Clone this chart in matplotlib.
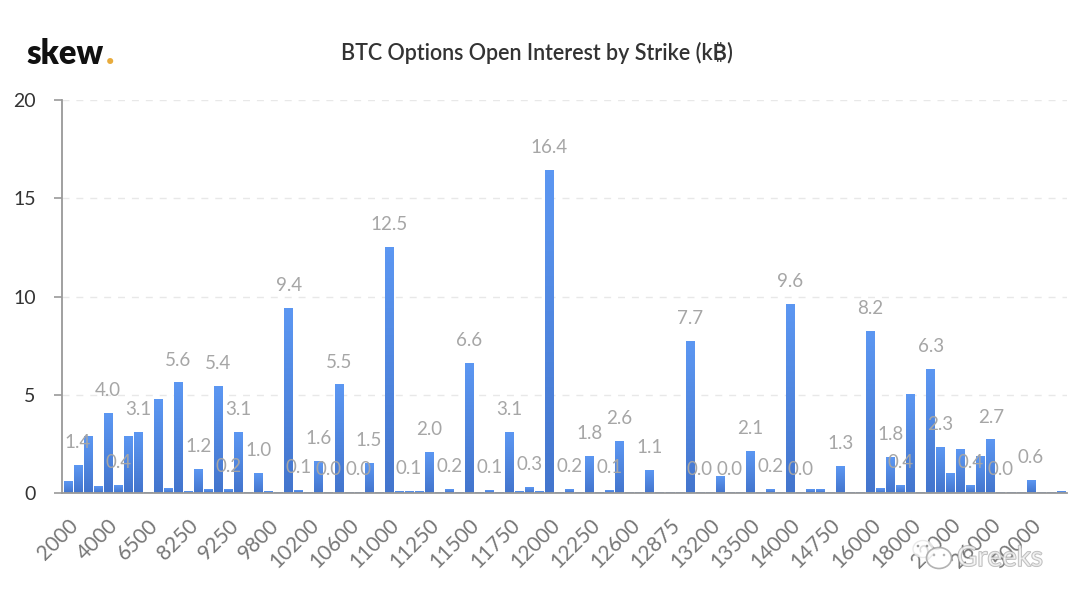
import numpy as np
import matplotlib
matplotlib.use("Agg")
import matplotlib.pyplot as plt
import matplotlib.patheffects as pe
from matplotlib.patches import Ellipse, Circle
from matplotlib.transforms import ScaledTranslation

plt.rcParams['font.family'] = ['Lato', 'DejaVu Sans']

# open interest for every strike
values = [0.6, 1.4, 2.85, 0.35, 4.04, 0.4, 2.9, 3.1, 0.05, 4.75,
          0.25, 5.6, 0.1, 1.2, 0.2, 5.4, 0.2, 3.1, 0.03, 1.0,
          0.07, 0.01, 9.4, 0.14, 0.03, 1.6, 0.02, 5.5, 0.01, 0.02,
          1.5, 0.05, 12.5, 0.07, 0.08, 0.07, 2.04, 0.02, 0.2, 0.02,
          6.6, 0.02, 0.14, 0.02, 3.1, 0.07, 0.3, 0.07, 16.4, 0.02,
          0.2, 0.03, 1.84, 0.02, 0.14, 2.6, 0.03, 0.01, 1.14, 0.03,
          0.03, 0.01, 7.7, 0.03, 0.03, 0.85, 0.03, 0.02, 2.1, 0.05,
          0.2, 0.03, 9.6, 0.02, 0.17, 0.17, 0.01, 1.34, 0.02, 0.05,
          8.2, 0.25, 1.8, 0.38, 5.0, 0.03, 6.3, 2.34, 1.0, 2.2,
          0.4, 1.85, 2.7, 0.04, 0.01, 0.02, 0.64, 0.02, 0.02, 0.07]

# only these bars carry a label
labelled = [1, 4, 5, 7, 11, 13, 15, 16, 17, 19, 22, 23, 25, 26, 27, 29, 30,
            32, 34, 36, 38, 40, 42, 44, 46, 48, 50, 52, 54, 55, 58, 62, 63,
            66, 68, 70, 72, 73, 77, 80, 82, 83, 86, 87, 90, 92, 93, 96]

strike_labels = ['2000', '4000', '6500', '8250', '9250', '9800', '10200',
                 '10600', '11000', '11250', '11500', '11750', '12000',
                 '12250', '12600', '12875', '13200', '13500', '14000',
                 '14750', '16000', '18000', '22000', '26000', '50000']
y_ticks = [0, 5, 10, 15, 20]

fig = plt.figure(figsize=(10.8, 6.03), dpi=100)
ax = fig.add_axes([62 / 1080, 1 - 493 / 603, (1067 - 62) / 1080, (493 - 100) / 603])

x = np.arange(len(values))
bars = ax.bar(x, values, width=0.86, color='#4f86e0', edgecolor='none', zorder=2)

# vertical gradient on each bar
grad = np.linspace(0, 1, 64).reshape(-1, 1)
cmap = matplotlib.colors.LinearSegmentedColormap.from_list('b', ['#5c97f2', '#4375cd'])
for b in bars:
    ax.imshow(grad, cmap=cmap, aspect='auto', zorder=3,
              extent=[b.get_x(), b.get_x() + b.get_width(), 0, b.get_height()])

ax.set_xlim(-0.6, 99.6)
ax.set_ylim(0, 20)

for i in labelled:
    ax.annotate('%.1f' % values[i], (i, values[i]), xytext=(0, 16.5),
                textcoords='offset points', ha='center', va='center',
                fontsize=13.5, color='#a6a6a6', zorder=5, clip_on=False)

ax.set_yticks(y_ticks)
ax.set_xticks(x[::4])
ax.set_xticklabels(strike_labels, rotation=45, ha='right', rotation_mode='anchor',
                   fontsize=15, color='#777777')
shift = ScaledTranslation(-3 / 100, 0, fig.dpi_scale_trans)
for lab in ax.get_xticklabels():
    lab.set_transform(lab.get_transform() + shift)
ax.tick_params(axis='x', length=0, pad=16)
ax.tick_params(axis='y', length=6, width=1.2, color='#999999', labelsize=14,
               labelcolor='#333333', pad=13)

ax.grid(axis='y', color='#e8e8e8', linestyle=(0, (5, 5)), linewidth=1, zorder=0)
ax.set_axisbelow(True)
for s in ['top', 'right']:
    ax.spines[s].set_visible(False)
for s in ['left', 'bottom']:
    ax.spines[s].set_color('#999999')
    ax.spines[s].set_linewidth(1.3)
    ax.spines[s].set_zorder(6)

# title and logo
fig.text(537 / 1080, 1 - 53 / 603, 'BTC Options Open Interest by Strike (k\u20bf)',
         ha='center', va='center', fontsize=15.5, color='#333333', weight='semibold',
         family=['Lato', 'Inter', 'Noto Sans', 'Open Sans', 'Roboto', 'DejaVu Sans'])
fig.text(26 / 1080, 1 - 64 / 603, 'skew', ha='left', va='baseline',
         fontsize=23.5, weight='heavy', color='#111111')
fig.text(105.5 / 1080, 1 - 64 / 603, '.', ha='left', va='baseline',
         fontsize=25, weight='heavy', color='#e8ab3c')

# watermark, see-through so the tick labels stay readable under it
over = fig.add_axes([0, 0, 1, 1])
over.set_xlim(0, 1080)
over.set_ylim(603, 0)
over.axis('off')
over.patch.set_alpha(0)
over.add_patch(Ellipse((923, 549), 20, 17, fc='white', ec='#e2e2e2', lw=1, alpha=0.75))
over.add_patch(Ellipse((939, 558), 25, 21, fc='white', ec='#a5a5a5', lw=1.2, alpha=0.85))
for cx, cy, col in [(918, 546, '#999999'), (927, 546, '#999999'),
                    (934, 555, '#b5b5b5'), (944, 555, '#b5b5b5')]:
    over.add_patch(Circle((cx, cy), 1.3, fc=col, ec='none'))
over.text(957, 558, 'Greeks', ha='left', va='center', fontsize=20, color='white', alpha=0.6,
          path_effects=[pe.Stroke(linewidth=1.2, foreground='#8f8f8f'), pe.Normal()])

fig.savefig('out.png', dpi=100, facecolor='white')
